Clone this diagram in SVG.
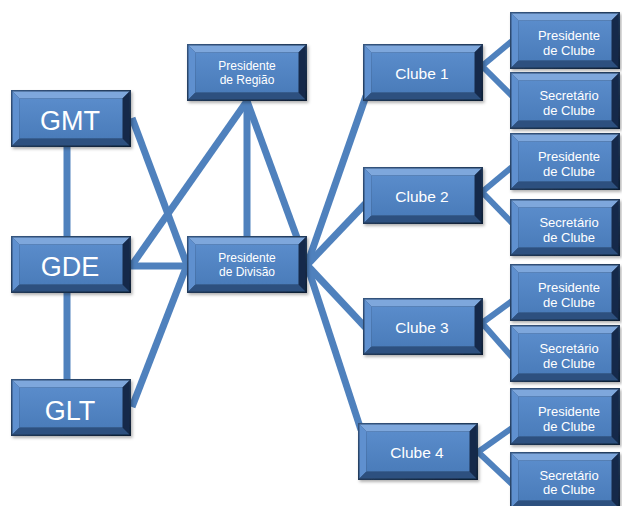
<svg xmlns="http://www.w3.org/2000/svg" xmlns:xlink="http://www.w3.org/1999/xlink" width="622" height="506" viewBox="0 0 622 506">
<defs>
<linearGradient id="edge" x1="0" y1="0" x2="1" y2="1">
<stop offset="0" stop-color="#35557F"/>
<stop offset="1" stop-color="#0E1E33"/>
</linearGradient>
<linearGradient id="face" x1="0" y1="0" x2="0" y2="1">
<stop offset="0" stop-color="#5A8CCB"/>
<stop offset="1" stop-color="#4A7CBA"/>
</linearGradient>
<filter id="sh" x="-10%" y="-10%" width="125%" height="130%">
<feDropShadow dx="1.5" dy="2" stdDeviation="1.5" flood-color="#000" flood-opacity="0.3"/>
</filter>
<symbol id="b120" viewBox="0 0 120 57" width="120" height="57" overflow="visible">
<rect x="0" y="0" width="120" height="57" fill="url(#edge)" filter="url(#sh)"/>
<polygon points="1.5,1.5 118.5,1.5 111.5,8.5 8.5,8.5" fill="#7EA7DC"/>
<polygon points="1.5,1.5 8.5,8.5 8.5,48.5 1.5,55.5" fill="#5F90CF"/>
<polygon points="118.5,1.5 118.5,55.5 111.5,48.5 111.5,8.5" fill="#15294A"/>
<polygon points="1.5,55.5 8.5,48.5 111.5,48.5 118.5,55.5" fill="#2D507F"/>
<rect x="8.5" y="8.5" width="103" height="40" fill="url(#face)"/>
</symbol>
<symbol id="b110" viewBox="0 0 110 57" width="110" height="57" overflow="visible">
<rect x="0" y="0" width="110" height="57" fill="url(#edge)" filter="url(#sh)"/>
<polygon points="1.5,1.5 108.5,1.5 101.5,8.5 8.5,8.5" fill="#7EA7DC"/>
<polygon points="1.5,1.5 8.5,8.5 8.5,48.5 1.5,55.5" fill="#5F90CF"/>
<polygon points="108.5,1.5 108.5,55.5 101.5,48.5 101.5,8.5" fill="#15294A"/>
<polygon points="1.5,55.5 8.5,48.5 101.5,48.5 108.5,55.5" fill="#2D507F"/>
<rect x="8.5" y="8.5" width="93" height="40" fill="url(#face)"/>
</symbol>
</defs>
<style>
.ln{stroke:#4F81BD;stroke-width:7;fill:none}
.ls{stroke:#4F81BD;stroke-width:6;fill:none}
text{font-family:"Liberation Sans",Arial,sans-serif;fill:#FFFFFF;text-anchor:middle}
.big{font-size:27px}
.mid{font-size:15.5px}
.sm{font-size:12px}
.sub{font-size:13px}
</style>
<rect width="622" height="506" fill="#FFFFFF"/>
<g id="connectors">
<line class="ln" x1="67" y1="140" x2="67" y2="240"/>
<line class="ln" x1="67" y1="290" x2="67" y2="382"/>
<line class="ln" x1="132" y1="118" x2="187" y2="265"/>
<line class="ln" x1="132" y1="265" x2="247" y2="101"/>
<line class="ln" x1="130" y1="266" x2="190" y2="266"/>
<line class="ln" x1="132" y1="407" x2="187" y2="265"/>
<line class="ln" x1="247" y1="98" x2="247" y2="240"/>
<line class="ln" x1="247" y1="101" x2="307" y2="265"/>
<line class="ln" x1="307" y1="265" x2="366" y2="96"/>
<line class="ln" x1="307" y1="265" x2="366" y2="203"/>
<line class="ln" x1="307" y1="265" x2="366" y2="328"/>
<line class="ln" x1="307" y1="265" x2="361" y2="430"/>
<line class="ls" x1="482" y1="66" x2="512" y2="41"/>
<line class="ls" x1="482" y1="66" x2="512" y2="96"/>
<line class="ls" x1="482" y1="192" x2="512" y2="167"/>
<line class="ls" x1="482" y1="192" x2="512" y2="223"/>
<line class="ls" x1="482" y1="323" x2="512" y2="301"/>
<line class="ls" x1="482" y1="323" x2="512" y2="357"/>
<line class="ls" x1="478" y1="452" x2="512" y2="428"/>
<line class="ls" x1="478" y1="452" x2="512" y2="484"/>
</g>
<g id="gmt" transform="translate(11,90)"><use xlink:href="#b120"/><text class="big" x="59" y="39.5">GMT</text></g>
<g id="gde" transform="translate(11,236)"><use xlink:href="#b120"/><text class="big" x="59" y="39.5">GDE</text></g>
<g id="glt" transform="translate(11,379)"><use xlink:href="#b120"/><text class="big" x="59" y="40.5">GLT</text></g>
<g id="presidente-regiao" transform="translate(187,44)"><use xlink:href="#b120"/><text class="sm" x="60" y="26">Presidente</text><text class="sm" x="60" y="40">de Região</text></g>
<g id="presidente-divisao" transform="translate(187,236)"><use xlink:href="#b120"/><text class="sm" x="60" y="26">Presidente</text><text class="sm" x="60" y="39.5">de Divisão</text></g>
<g id="clube1" transform="translate(363,44)"><use xlink:href="#b120"/><text class="mid" x="59" y="35">Clube 1</text></g>
<g id="clube2" transform="translate(363,167)"><use xlink:href="#b120"/><text class="mid" x="59" y="35">Clube 2</text></g>
<g id="clube3" transform="translate(363,298)"><use xlink:href="#b120"/><text class="mid" x="59" y="35">Clube 3</text></g>
<g id="clube4" transform="translate(358,423)"><use xlink:href="#b120"/><text class="mid" x="59" y="35">Clube 4</text></g>
<g id="presidente-clube1" transform="translate(510,12)"><use xlink:href="#b110"/><text class="sub" x="59" y="27.5">Presidente</text><text class="sub" x="59" y="42.5">de Clube</text></g>
<g id="secretario-clube1" transform="translate(510,72)"><use xlink:href="#b110"/><text class="sub" x="59" y="28">Secretário</text><text class="sub" x="59" y="43">de Clube</text></g>
<g id="presidente-clube2" transform="translate(510,133)"><use xlink:href="#b110"/><text class="sub" x="59" y="27.5">Presidente</text><text class="sub" x="59" y="42.5">de Clube</text></g>
<g id="secretario-clube2" transform="translate(510,199)"><use xlink:href="#b110"/><text class="sub" x="59" y="28">Secretário</text><text class="sub" x="59" y="43">de Clube</text></g>
<g id="presidente-clube3" transform="translate(510,264)"><use xlink:href="#b110"/><text class="sub" x="59" y="27.5">Presidente</text><text class="sub" x="59" y="42.5">de Clube</text></g>
<g id="secretario-clube3" transform="translate(510,325)"><use xlink:href="#b110"/><text class="sub" x="59" y="28">Secretário</text><text class="sub" x="59" y="43">de Clube</text></g>
<g id="presidente-clube4" transform="translate(510,388)"><use xlink:href="#b110"/><text class="sub" x="59" y="27.5">Presidente</text><text class="sub" x="59" y="42.5">de Clube</text></g>
<g id="secretario-clube4" transform="translate(510,452)"><use xlink:href="#b110"/><text class="sub" x="59" y="28">Secretário</text><text class="sub" x="59" y="42">de Clube</text></g>
</svg>
